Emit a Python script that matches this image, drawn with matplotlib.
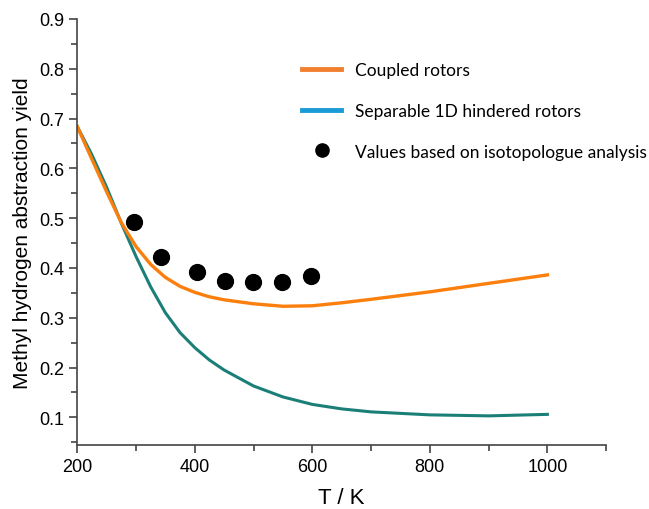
import matplotlib
matplotlib.use("Agg")
import matplotlib.pyplot as plt
from matplotlib.lines import Line2D
from matplotlib.ticker import MultipleLocator

# coupled rotors curve
t_coupled = [200, 225, 250, 275, 300, 325, 350, 375, 400, 425, 450, 500, 550, 600, 650, 700, 800, 900, 1000]
y_coupled = [0.684, 0.618, 0.553, 0.491, 0.443, 0.407, 0.381, 0.363, 0.351, 0.342, 0.336, 0.328, 0.323, 0.324, 0.330, 0.337, 0.352, 0.369, 0.386]

# separable 1D hindered rotors curve
t_sep = [200, 225, 250, 275, 300, 325, 350, 375, 400, 425, 450, 500, 550, 600, 650, 700, 800, 900, 1000]
y_sep = [0.684, 0.627, 0.562, 0.490, 0.423, 0.362, 0.310, 0.270, 0.240, 0.215, 0.195, 0.163, 0.141, 0.126, 0.117, 0.111, 0.105, 0.103, 0.106]

# isotopologue analysis values
t_iso = [296, 342, 403, 452, 499, 548, 597]
y_iso = [0.493, 0.422, 0.392, 0.374, 0.372, 0.372, 0.383]

orange = "#fb7f0c"
teal = "#1b7f78"

fig = plt.figure(figsize=(6.49, 5.10), dpi=100)
ax = fig.add_axes([0.119, 0.125, 0.815, 0.836])

ax.plot(t_sep, y_sep, color=teal, lw=2.2)
ax.plot(t_coupled, y_coupled, color=orange, lw=2.4)
ax.scatter(t_iso, y_iso, s=130, color="black", zorder=3)

ax.set_xlim(200, 1100)
ax.set_ylim(0.044, 0.9)
ax.xaxis.set_minor_locator(MultipleLocator(100))
ax.yaxis.set_minor_locator(MultipleLocator(0.05))
ax.set_yticks([0.1, 0.2, 0.3, 0.4, 0.5, 0.6, 0.7, 0.8, 0.9])
ax.set_xticks([200, 400, 600, 800, 1000])

for s in ["top", "right"]:
    ax.spines[s].set_visible(False)
for s in ["left", "bottom"]:
    ax.spines[s].set_color("#444444")
    ax.spines[s].set_linewidth(1.2)

ax.tick_params(which="major", length=6, width=1.2, color="#444444",
               labelsize=13, labelfontfamily="Liberation Sans")
ax.tick_params(which="minor", length=4, width=1.2, color="#444444")

ax.set_xlabel("T / K", fontsize=16, family="Liberation Sans", labelpad=8)
ax.set_ylabel("Methyl hydrogen abstraction yield", fontsize=15,
              family="Liberation Sans", labelpad=5)

handles = [
    Line2D([], [], color="#f08030", lw=3.5),
    Line2D([], [], color="#1a9ad6", lw=3.5),
    Line2D([], [], marker="o", ls="none", color="black", markersize=9.5),
]
labels = ["Coupled rotors", "Separable 1D hindered rotors",
          "Values based on isotopologue analysis"]
ax.legend(handles, labels, loc="upper left", bbox_to_anchor=(0.466, 0.876),
          bbox_transform=fig.transFigure, frameon=False,
          prop={"family": "Lato", "size": 12.5}, borderpad=0, borderaxespad=0,
          handlelength=2.25, labelspacing=1.42, handletextpad=0.75)

fig.savefig("out.png", dpi=100)
